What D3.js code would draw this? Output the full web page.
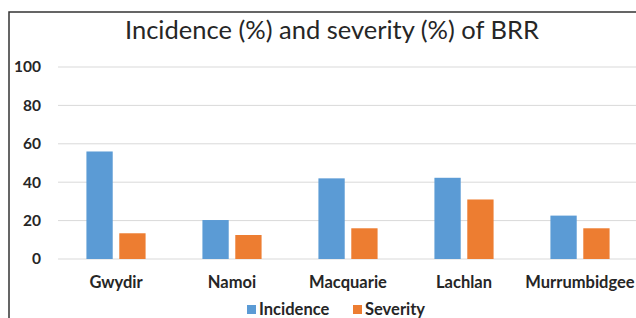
<!DOCTYPE html>
<html>
<head>
<meta charset="utf-8">
<script src="https://cdn.jsdelivr.net/npm/d3@7"></script>
<style>
  body { margin: 0; background: #fff; }
  text { font-family: Lato, "Open Sans", sans-serif; fill: #262626; }
</style>
</head>
<body>
<div id="chart"></div>
<script>
// chart data
var regions = ["Gwydir", "Namoi", "Macquarie", "Lachlan", "Murrumbidgee"];
var seriesNames = ["Incidence", "Severity"];
var incidence = [56, 20.3, 42, 42.3, 22.6];
var severity = [13.4, 12.5, 16, 31, 16];
var yTicks = [0, 20, 40, 60, 80, 100];
var colors = ["#5B9BD5", "#ED7D31"];

var width = 636, height = 318;
var margin = { top: 67, right: -2, bottom: 59, left: 58 };
var innerW = width - margin.left - margin.right,
    innerH = height - margin.top - margin.bottom;

var svg = d3.select("#chart").append("svg")
    .attr("width", width)
    .attr("height", height);

// frame (left + top border of the pasted figure)
svg.append("path")
    .attr("d", "M9,318V12H636")
    .attr("fill", "none")
    .attr("stroke", "#333")
    .attr("stroke-width", 1.5);

svg.append("text")
    .attr("x", 332)
    .attr("y", 39)
    .attr("text-anchor", "middle")
    .style("font-size", "25.5px")
    .text("Incidence (%) and severity (%) of BRR");

var g = svg.append("g")
    .attr("transform", "translate(" + margin.left + "," + margin.top + ")");

var x0 = d3.scaleBand()
    .domain(regions)
    .range([0, innerW])
    .paddingInner(0.49)
    .paddingOuter(0.245);

var x1 = d3.scaleBand()
    .domain(seriesNames)
    .range([0, x0.bandwidth()])
    .paddingInner(0.2)
    .paddingOuter(0);

var y = d3.scaleLinear()
    .domain([0, 100])
    .range([innerH, 0]);

// gridlines
g.append("g")
    .selectAll("line")
    .data(yTicks)
    .join("line")
    .attr("x1", 0)
    .attr("x2", innerW)
    .attr("y1", d => y(d))
    .attr("y2", d => y(d))
    .attr("stroke", "#d9d9d9")
    .attr("stroke-width", 1);

// y labels
g.append("g")
    .selectAll("text")
    .data(yTicks)
    .join("text")
    .attr("x", -17)
    .attr("y", d => y(d))
    .attr("dy", "0.35em")
    .attr("text-anchor", "end")
    .style("font-size", "15.5px")
    .style("font-weight", "bold")
    .text(d => d);

var rows = regions.map((r, i) => ({ region: r, values: [incidence[i], severity[i]] }));

var groups = g.selectAll(".group")
    .data(rows)
    .join("g")
    .attr("class", "group")
    .attr("transform", d => "translate(" + x0(d.region) + ",0)");

groups.selectAll("rect")
    .data(d => d.values.map((v, j) => ({ key: seriesNames[j], value: v, j: j })))
    .join("rect")
    .attr("x", d => x1(d.key))
    .attr("width", x1.bandwidth())
    .attr("y", d => y(d.value))
    .attr("height", d => innerH - y(d.value))
    .attr("fill", d => colors[d.j]);

// x labels
g.append("g")
    .selectAll("text")
    .data(regions)
    .join("text")
    .attr("x", d => x0(d) + x0.bandwidth() / 2)
    .attr("y", 288 - margin.top)
    .attr("text-anchor", "middle")
    .style("font-size", "16.5px")
    .style("font-weight", "bold")
    .text(d => d);

// legend
var legend = svg.append("g")
    .attr("transform", "translate(247,315)");

var legendX = [0, 106];
var item = legend.selectAll("g")
    .data(seriesNames)
    .join("g")
    .attr("transform", (d, i) => "translate(" + legendX[i] + ",0)");

item.append("rect")
    .attr("x", 0)
    .attr("y", -10)
    .attr("width", 9)
    .attr("height", 9)
    .attr("fill", (d, i) => colors[i]);

item.append("text")
    .attr("x", 12)
    .attr("y", 0)
    .style("font-size", "16.5px")
    .style("font-weight", "bold")
    .text(d => d);
</script>
</body>
</html>
